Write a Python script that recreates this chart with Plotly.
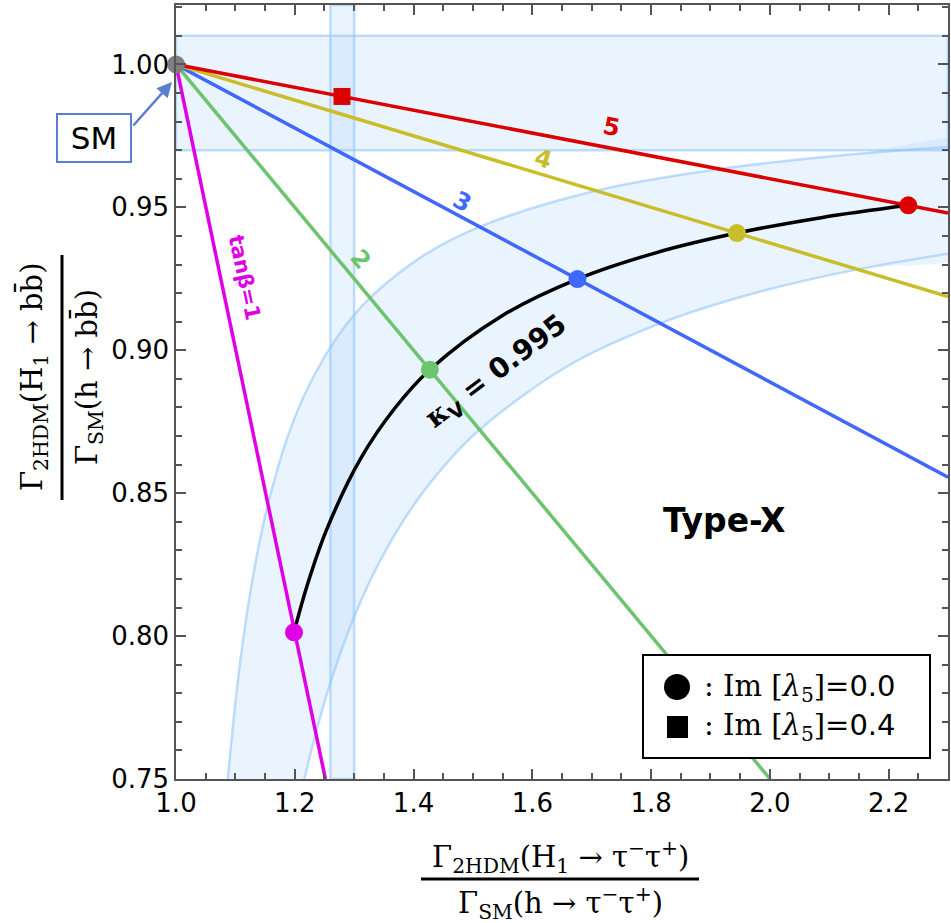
import plotly.graph_objects as go

# ---------------- data ----------------
sm_point = (1.0, 1.0)

# kappa_V = 0.995 curve (tanβ from 1 to 5)
kv_x = [1.1987, 1.2207, 1.2540, 1.3106, 1.3684, 1.4274, 1.5492, 1.6760, 1.8078, 1.9446, 2.0864, 2.2331]
kv_y = [0.8013, 0.8176, 0.8374, 0.8620, 0.8797, 0.8932, 0.9121, 0.9249, 0.9341, 0.9410, 0.9464, 0.9507]

# light-blue band: outer and inner edges
band_out_x = [1.0807, 1.0888, 1.1050, 1.1213, 1.1378, 1.1543, 1.1878, 1.2218, 1.2737, 1.3266, 1.4173, 1.5109, 1.7072, 1.9155, 2.1357, 2.3679]
band_out_y = [0.7332, 0.7534, 0.7858, 0.8105, 0.8299, 0.8457, 0.8696, 0.8868, 0.9053, 0.9183, 0.9332, 0.9432, 0.9558, 0.9634, 0.9685, 0.9721]
band_in_x = [1.1955, 1.2163, 1.2346, 1.2610, 1.3011, 1.3418, 1.3971, 1.4535, 1.5110, 1.6597, 1.8153, 1.9779, 2.1475, 2.3603]
band_in_y = [0.7294, 0.7500, 0.7654, 0.7843, 0.8073, 0.8256, 0.8449, 0.8600, 0.8722, 0.8945, 0.9094, 0.9202, 0.9283, 0.9357]

# horizontal / vertical bands
hband = [0.97, 1.01]
vband = [1.26, 1.30]

# tanβ lines (start at SM point, end at frame)
tb_labels = ["tanβ=1", "2", "3", "4", "5"]
tb_colors = ["#E000E6", "#6EC46E", "#4068FF", "#C8BE2A", "#DC0000"]
tb_end_x = [1.2516, 2.0004, 2.30, 2.30, 2.30]
tb_end_y = [0.75, 0.75, 0.8556, 0.9188, 0.9480]

# Im[λ5] = 0.0 points (circles) on the κV curve
dot_x = [1.1987, 1.4274, 1.6760, 1.9446, 2.2331]
dot_y = [0.8013, 0.8932, 0.9249, 0.9410, 0.9507]
# Im[λ5] = 0.4 point (square)
sq_x = [1.2795]
sq_y = [0.9888]

# text label positions (data coords)
lab_x = [1.1145, 1.310, 1.483, 1.618, 1.734]
lab_y = [0.9255, 0.9318, 0.9520, 0.9668, 0.9780]
lab_angle = [78, 50, 28, 17, 11]

# ---------------- layout geometry ----------------
W, H = 951, 923
L, R, T, B = 176, 3, 5, 144
PW, PH = W - L - R, H - T - B


def px(xp):
    return (xp - L) / PW


def py(yp):
    return (H - B - yp) / PH


band_fill = "rgba(150,200,250,0.20)"
band_line = "rgba(140,195,250,0.55)"
SANS = "DejaVu Sans"
SERIF = "DejaVu Serif"

fig = go.Figure()

# curved band fill
fig.add_trace(go.Scatter(
    x=band_out_x + band_in_x[::-1], y=band_out_y + band_in_y[::-1],
    mode="lines", fill="toself", fillcolor=band_fill,
    line=dict(width=0, shape="spline"), hoverinfo="skip", showlegend=False))
for bx, by in [(band_out_x, band_out_y), (band_in_x, band_in_y)]:
    fig.add_trace(go.Scatter(x=bx, y=by, mode="lines",
                             line=dict(color=band_line, width=2.5, shape="spline"),
                             hoverinfo="skip", showlegend=False))

# horizontal and vertical bands
fig.add_shape(type="rect", xref="paper", yref="y", x0=0, x1=1, y0=hband[0], y1=hband[1],
              fillcolor=band_fill, line=dict(color=band_line, width=2.5), layer="below")
fig.add_shape(type="rect", xref="x", yref="paper", x0=vband[0], x1=vband[1], y0=0, y1=1,
              fillcolor=band_fill, line=dict(color=band_line, width=2.5), layer="below")

# tanβ lines
for ex, ey, c in zip(tb_end_x, tb_end_y, tb_colors):
    fig.add_trace(go.Scatter(x=[sm_point[0], ex], y=[sm_point[1], ey], mode="lines",
                             line=dict(color=c, width=3.5), hoverinfo="skip", showlegend=False))

# κV curve
fig.add_trace(go.Scatter(x=kv_x, y=kv_y, mode="lines", line=dict(color="black", width=3.5, shape="spline"),
                         hoverinfo="skip", showlegend=False))

# markers
fig.add_trace(go.Scatter(x=dot_x, y=dot_y, mode="markers",
                         marker=dict(color=tb_colors, size=18, symbol="circle"),
                         hoverinfo="skip", showlegend=False))
fig.add_trace(go.Scatter(x=sq_x, y=sq_y, mode="markers",
                         marker=dict(color=tb_colors[4], size=17, symbol="square"),
                         hoverinfo="skip", showlegend=False))
fig.add_trace(go.Scatter(x=[sm_point[0]], y=[sm_point[1]], mode="markers", cliponaxis=False,
                         marker=dict(color="#7F7F7F", size=18), hoverinfo="skip", showlegend=False))

# line labels
for i, (lx, ly, ang, c) in enumerate(zip(lab_x, lab_y, lab_angle, tb_colors)):
    fig.add_annotation(x=lx, y=ly, text="<b>%s</b>" % tb_labels[i], showarrow=False, textangle=ang,
                       xanchor="center", yanchor="middle",
                       font=dict(family=SANS, size=21 if i == 0 else 24, color=c))

fig.add_annotation(x=1.540, y=0.8922,
                   text="<b><span style='font-family:DejaVu Serif'>κ</span><sub>V</sub> = 0.995</b>",
                   showarrow=False, textangle=-37, xanchor="center", yanchor="middle",
                   font=dict(family=SANS, size=28, color="black"))
fig.add_annotation(x=1.924, y=0.8404, text="<b>Type-X</b>", showarrow=False,
                   xanchor="center", yanchor="middle",
                   font=dict(family=SANS, size=33, color="black"))

# legend box
fig.add_shape(type="rect", xref="paper", yref="paper", x0=px(643), x1=px(930), y0=py(758), y1=py(655),
              line=dict(color="black", width=2), fillcolor="white", layer="above")
fig.add_shape(type="circle", xref="paper", yref="paper", x0=px(664), x1=px(690), y0=py(700), y1=py(674),
              line=dict(width=0), fillcolor="black", layer="above")
fig.add_shape(type="rect", xref="paper", yref="paper", x0=px(667), x1=px(688), y0=py(738), y1=py(716),
              line=dict(width=0), fillcolor="black", layer="above")
for ypix, val in [(688, "0.0"), (727, "0.4")]:
    fig.add_annotation(xref="paper", yref="paper", x=px(702), y=py(ypix), xanchor="left", yanchor="middle",
                       text=": Im [<i>λ</i><sub>5</sub>]=<span style='font-family:DejaVu Sans'>%s</span>" % val,
                       showarrow=False, font=dict(family=SERIF, size=29, color="black"))

# SM box and arrow
fig.add_annotation(xref="paper", yref="paper", x=px(94), y=py(138), text="SM", showarrow=False,
                   xanchor="center", yanchor="middle",
                   width=72, height=46, borderpad=0, bordercolor="#5B7FCF", borderwidth=2, bgcolor="white",
                   font=dict(family=SANS, size=31, color="black"))
fig.add_annotation(xref="paper", yref="paper", x=px(172), y=py(82), ax=-40, ay=45, text="",
                   showarrow=True, arrowhead=2, arrowsize=1.2, arrowwidth=2.5, arrowcolor="#5B7FCF")

# axis titles (fractions)
serif = dict(family=SERIF, size=29, color="black")
fig.add_annotation(xref="paper", yref="paper", x=px(560), y=py(857), xanchor="center", yanchor="middle",
                   text="Γ<sub>2HDM</sub>(H<sub>1</sub> → τ<sup>−</sup>τ<sup>+</sup>)", showarrow=False, font=serif)
fig.add_annotation(xref="paper", yref="paper", x=px(560), y=py(903), xanchor="center", yanchor="middle",
                   text="Γ<sub>SM</sub>(h → τ<sup>−</sup>τ<sup>+</sup>)", showarrow=False, font=serif)
fig.add_shape(type="line", xref="paper", yref="paper", x0=px(421), x1=px(699), y0=py(879), y1=py(879),
              line=dict(color="black", width=3))

fig.add_annotation(xref="paper", yref="paper", x=px(33), y=py(377), textangle=-90,
                   xanchor="center", yanchor="middle",
                   text="Γ<sub>2HDM</sub>(H<sub>1</sub> → bb\u0304)", showarrow=False, font=serif)
fig.add_annotation(xref="paper", yref="paper", x=px(88), y=py(377), textangle=-90,
                   xanchor="center", yanchor="middle",
                   text="Γ<sub>SM</sub>(h → bb\u0304)", showarrow=False, font=serif)
fig.add_shape(type="line", xref="paper", yref="paper", x0=px(62), x1=px(62), y0=py(500), y1=py(255),
              line=dict(color="black", width=3))

axis_common = dict(showline=True, linecolor="#555555", linewidth=1.5, mirror="allticks",
                   ticks="inside", ticklen=10, tickwidth=1.5, tickcolor="#555555",
                   showgrid=False, zeroline=False, automargin=False,
                   tickfont=dict(family=SANS, size=26, color="black"))
fig.update_xaxes(range=[1.0, 2.30], dtick=0.2, tick0=1.0, tickformat=".1f",
                 minor=dict(dtick=0.05, ticks="inside", ticklen=6, tickcolor="#555555", showgrid=False),
                 **axis_common)
fig.update_yaxes(range=[0.75, 1.0208], dtick=0.05, tick0=0.75, tickformat=".2f",
                 minor=dict(dtick=0.01, ticks="inside", ticklen=6, tickcolor="#555555", showgrid=False),
                 **axis_common)

fig.update_layout(width=W, height=H, margin=dict(l=L, r=R, t=T, b=B),
                  plot_bgcolor="white", paper_bgcolor="white", showlegend=False)

fig.write_html("out.html", config={"displayModeBar": False},
               post_script="document.body.style.margin='0px';")
